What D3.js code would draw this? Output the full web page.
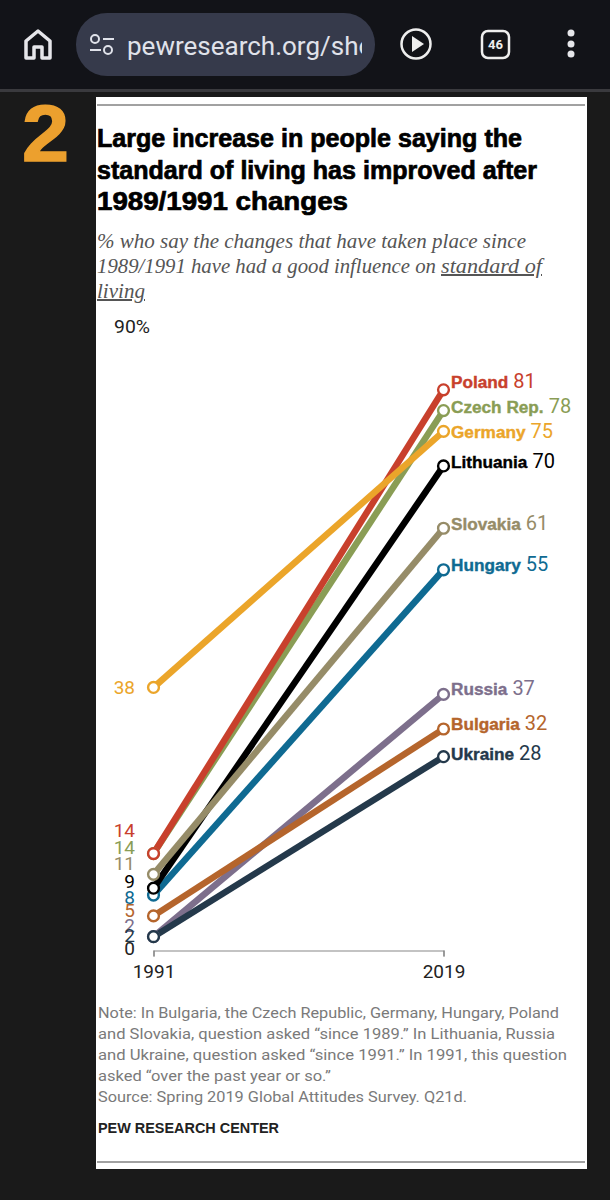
<!DOCTYPE html>
<html><head><meta charset="utf-8">
<script src="https://cdn.jsdelivr.net/npm/d3@7"></script>
<style>html,body{margin:0;padding:0;background:#1a1a1a}svg{display:block}</style>
</head><body><svg id="c" width="610" height="1200"></svg>
<script>
const years=[1991,2019];
const countries=["Bulgaria","Hungary","Slovakia","Czech Rep.","Poland","Germany","Lithuania","Russia","Ukraine"];
const start=[5,8,11,14,14,38,9,2,2];
const end=[32,55,61,78,81,75,70,37,28];
const colors=["#b5652c","#0f6a92","#968c68","#8a9d55","#c8402c","#eba52a","#000000","#7d6f8c","#24394b"];
const drawOrder=["Czech Rep.","Poland","Germany","Hungary","Lithuania","Slovakia","Russia","Bulgaria","Ukraine"];
const leftLabelOrder=["Poland","Czech Rep.","Slovakia","Lithuania","Hungary","Bulgaria","Russia","Ukraine"];
const leftLabelY=[830,847,863,881,897,910,925,935];
const rightLabelY={"Poland":382,"Czech Rep.":407,"Germany":432,"Lithuania":462,"Slovakia":524,"Hungary":565,"Russia":689,"Bulgaria":724,"Ukraine":754};
const titleLines=["Large increase in people saying the","standard of living has improved after","1989/1991 changes"];
const subLines=["% who say the changes that have taken place since","1989/1991 have had a good influence on","living"];
const noteLines=["Note: In Bulgaria, the Czech Republic, Germany, Hungary, Poland","and Slovakia, question asked “since 1989.” In Lithuania, Russia","and Ukraine, question asked “since 1991.” In 1991, this question","asked “over the past year or so.”","Source: Spring 2019 Global Attitudes Survey. Q21d."];

const svg=d3.select("#c");
const txt=(x,y,s,o={})=>svg.append("text").attr("x",x).attr("y",y).text(s)
  .attr("font-family",o.f||"Roboto, sans-serif").attr("font-size",o.s||16).attr("fill",o.c||"#000")
  .attr("font-weight",o.w||400).attr("font-style",o.i||null).attr("text-anchor",o.a||"start")
  .attr("textLength",o.l||null).attr("lengthAdjust",o.l?"spacingAndGlyphs":null);

// phone chrome
svg.append("rect").attr("width",610).attr("height",1200).attr("fill","#1a1a1a");
svg.append("rect").attr("width",610).attr("height",89).attr("fill","#121318");
svg.append("rect").attr("y",89).attr("width",610).attr("height",3).attr("fill","#3a3a3e");
svg.append("rect").attr("x",76).attr("y",13).attr("width",299).attr("height",63).attr("rx",31).attr("fill","#363a4b");
svg.append("path").attr("d","M26 58V41L38 31L50 41V58H42V47H34V58Z").attr("fill","none").attr("stroke","#e6e6ea").attr("stroke-width",3.5).attr("stroke-linejoin","round");
const ic="#e0e2ea";
svg.append("circle").attr("cx",95).attr("cy",39).attr("r",4).attr("fill","none").attr("stroke",ic).attr("stroke-width",2);
svg.append("path").attr("d","M103 39H114M90 50H101").attr("stroke",ic).attr("stroke-width",2);
svg.append("circle").attr("cx",108).attr("cy",50).attr("r",4).attr("fill","none").attr("stroke",ic).attr("stroke-width",2);
svg.append("defs").append("clipPath").attr("id","u").append("rect").attr("x",124).attr("y",20).attr("width",238).attr("height",50);
txt(127,55,"pewresearch.org/shop",{s:26,c:ic}).attr("clip-path","url(#u)");
svg.append("circle").attr("cx",416).attr("cy",44).attr("r",14.5).attr("fill","none").attr("stroke","#eee").attr("stroke-width",2.5);
svg.append("path").attr("d","M412 36L424 44L412 52Z").attr("fill","#eee");
svg.append("rect").attr("x",482).attr("y",31).attr("width",27).attr("height",27).attr("rx",6).attr("fill","none").attr("stroke","#eee").attr("stroke-width",2.5);
txt(495.5,49,"46",{s:13,c:"#eee",w:700,a:"middle"});
svg.selectAll(".dot").data([33,44,54]).join("circle").attr("cx",571).attr("cy",d=>d).attr("r",3.5).attr("fill","#e6e6ea");

// big number
txt(22,161,"2",{f:"'Liberation Sans'",s:80,w:700,c:"#eca02e",l:47}).attr("stroke","#eca02e").attr("stroke-width",1.5);

// card
svg.append("rect").attr("x",96).attr("y",97).attr("width",491).attr("height",1072).attr("fill","#fff");
svg.append("path").attr("d","M97 105H585M97 1162H585").attr("stroke","#444").attr("stroke-width",1);

// heading
const tw=[425,440,251];
titleLines.forEach((t,i)=>txt(97,147+i*31.5,t,{f:"'Liberation Sans'",s:25,w:700,l:tw[i]}).attr("stroke","#000").attr("stroke-width",.7));
const serif="'Liberation Serif'";
txt(97,248,subLines[0],{f:serif,s:20,i:"italic",c:"#555",l:429});
txt(97,273,subLines[1],{f:serif,s:20,i:"italic",c:"#555",l:339});
txt(441,273,"standard of",{f:serif,s:20,i:"italic",c:"#555",l:101}).attr("text-decoration","underline");
txt(97,298,subLines[2],{f:serif,s:20,i:"italic",c:"#555",l:48}).attr("text-decoration","underline");

// scales
const x=d3.scalePoint().domain(years).range([153.5,443.5]);
const y=d3.scaleLinear().domain([0,90]).range([950.5,327.5]);
const val=countries.map((c,i)=>({c,a:start[i],b:end[i],col:colors[i]}));
const by=Object.fromEntries(val.map(d=>[d.c,d]));

// axis
const axis=d3.axisBottom(x).tickSize(6).tickFormat(d3.format("d"));
const g=svg.append("g").attr("transform","translate(0,950.5)").call(axis);
g.select(".domain").attr("stroke","#888").attr("stroke-width",1.2);
g.selectAll(".tick line").attr("stroke","#888").attr("stroke-width",1.2);
g.selectAll(".tick text").attr("y",14).attr("font-family","Roboto, sans-serif").attr("font-size",19).attr("fill","#222");

txt(114,333,"90%",{s:18.5,c:"#222",l:36});
txt(135,955,"0",{s:19,c:"#222",a:"end"});

// lines
const line=d3.line().x(d=>x(d[0])).y(d=>y(d[1]));
drawOrder.forEach(c=>{const d=by[c];
  svg.append("path").attr("d",line([[years[0],d.a],[years[1],d.b]])).attr("fill","none").attr("stroke",d.col).attr("stroke-width",6.5);
});
// dots
drawOrder.forEach(c=>{const d=by[c];
  [[years[0],d.a],[years[1],d.b]].forEach(p=>svg.append("circle").attr("cx",x(p[0])).attr("cy",y(p[1])).attr("r",5.4).attr("fill","#fff").attr("stroke",d.col).attr("stroke-width",2.4));
});

// left labels
txt(135,693.5,by["Germany"].a,{s:19,c:by["Germany"].col,a:"end"});
leftLabelOrder.forEach((c,i)=>txt(135,leftLabelY[i]+6.5,by[c].a,{s:19,c:by[c].col,a:"end"}));

// right labels
drawOrder.forEach(c=>{const d=by[c];
  const t=svg.append("text").attr("x",451).attr("y",rightLabelY[c]+6).attr("fill",d.col).attr("font-size",19).attr("font-family","'Liberation Sans'");
  t.append("tspan").attr("font-weight",700).attr("font-size",17.2).attr("stroke",d.col).attr("stroke-width",.4).text(c);
  t.append("tspan").attr("font-family","Roboto, sans-serif").attr("font-size",20).attr("dx",5).text(d.b);
});

// notes
const nw=[461,457,469,233,369];
noteLines.forEach((t,i)=>txt(98,1018+i*21,t,{s:15,c:"#7a7a7a",l:nw[i]}));
txt(98,1133,"PEW RESEARCH CENTER",{f:"'Liberation Sans'",s:14.5,w:700,c:"#222",l:181});
</script></body></html>
